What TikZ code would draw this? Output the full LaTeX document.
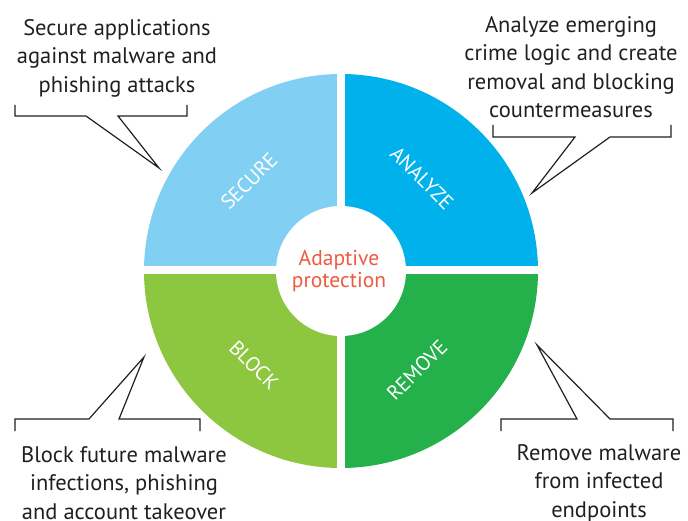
\documentclass[tikz,border=0pt]{standalone}
\usepackage{fontspec}
\setmainfont{PT Sans}
\usepackage{xcolor}
\usetikzlibrary{positioning,calc}
\definecolor{secblue}{HTML}{81D0F4}
\definecolor{anablue}{HTML}{00B1EB}
\definecolor{blkgreen}{HTML}{8DC63F}
\definecolor{remgreen}{HTML}{24B04B}
\definecolor{adaptred}{HTML}{EF5A40}
\definecolor{inkgray}{HTML}{231F20}

\begin{document}
\begin{tikzpicture}[x=1pt,y=1pt,
  note/.style={align=center,text=inkgray,font=\fontsize{22.5}{28.5}\selectfont,inner sep=0pt},
  quadlabel/.style={text=white,font=\fontsize{20.5}{20.5}\selectfont},
  bracket/.style={draw=inkgray,line width=1.2pt}]
\useasboundingbox (0,0) rectangle (688,520);
\coordinate (c) at (341,249);
% the four quarters
\fill[secblue] (c) -- ++(180:197) arc[start angle=180,end angle=90,radius=197] -- cycle;
\fill[anablue] (c) -- ++(90:197) arc[start angle=90,end angle=0,radius=197] -- cycle;
\fill[remgreen] (c) -- ++(0:197) arc[start angle=0,end angle=-90,radius=197] -- cycle;
\fill[blkgreen] (c) -- ++(-90:197) arc[start angle=-90,end angle=-180,radius=197] -- cycle;
\draw[white,line width=8pt] ($(c)+(-200,1)$) -- ($(c)+(200,1)$) ($(c)+(0,-200)$) -- ($(c)+(0,200)$);
\fill[white] (c) circle[radius=65];
\node[quadlabel,rotate=45] (secure) at (249,339) {SECURE};
\node[quadlabel,rotate=-45] (analyze) at (422,342) {ANALYZE};
\node[quadlabel,rotate=-45] (block) at (254,155) {BLOCK};
\node[quadlabel,rotate=45] (remove) at (417,150) {REMOVE};
\node[align=center,text=adaptred,font=\fontsize{21.5}{22}\selectfont,inner sep=0pt] (adaptive) at (339,249) {Adaptive\\protection};
% callouts
\node[note,anchor=north] (securenote) at (117,501) {Secure applications\\against malware and\\phishing attacks};
\node[note,anchor=north] (analyzenote) at (571,504) {Analyze emerging\\crime logic and create\\removal and blocking\\countermeasures};
\node[note,anchor=north] (blocknote) at (124,74) {Block future malware\\infections, phishing\\and account takeover};
\node[note,anchor=north] (removenote) at (599,76) {Remove malware\\from infected\\endpoints};
\coordinate (securetip) at (159,352);
\coordinate (analyzetip) at (532,327);
\coordinate (blocktip) at (144,163);
\coordinate (removetip) at (537,175);
\draw[bracket] (15,415) |- (86,404) -- (securetip) -- (118,404) -| (187,415);
\draw[bracket] (493,395) |- (575,383) -- (analyzetip) -- (610,383) -| (671,395);
\draw[bracket] (15,89) |- (89,101) -- (blocktip) -- (119,101) -| (200,89);
\draw[bracket] (501,89) |- (577,101) -- (removetip) -- (610,101) -| (673,89);
\end{tikzpicture}
\end{document}
